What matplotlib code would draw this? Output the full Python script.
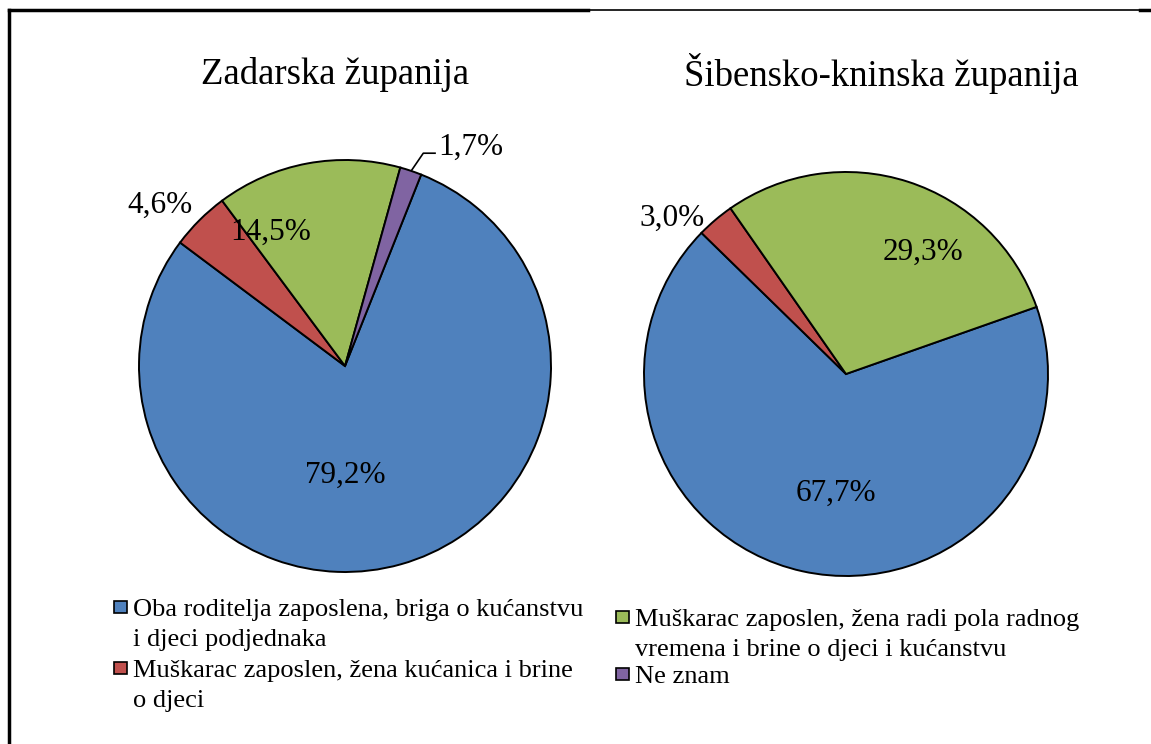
import matplotlib.pyplot as plt
from matplotlib.lines import Line2D
from matplotlib.patches import Rectangle

# =========================
# DATA
# =========================
categories = [
    "Oba roditelja zaposlena, briga o kućanstvu\ni djeci podjednaka",
    "Muškarac zaposlen, žena kućanica i brine\no djeci",
    "Muškarac zaposlen, žena radi pola radnog\nvremena i brine o djeci i kućanstvu",
    "Ne znam",
]
colors = ["#4F81BD", "#C0504D", "#9BBB59", "#8064A2"]

zadar_title = "Zadarska županija"
zadar_values = [79.2, 4.6, 14.5, 1.7]

sibenik_title = "Šibensko-kninska županija"
sibenik_values = [67.7, 3.0, 29.3]

W, H = 1151, 744
plt.rcParams["font.family"] = ["Liberation Serif", "DejaVu Serif"]

fig = plt.figure(figsize=(W / 100, H / 100), dpi=100)


def fmt(v):
    return ("%.1f%%" % v).replace(".", ",")


def pie_axes(cx, cy, r):
    # axes box in pixels so that radius 1 == r px
    return fig.add_axes([(cx - r) / W, (H - cy - r) / H, 2 * r / W, 2 * r / H])


def draw_pie(ax, values, startangle, label_pos):
    ax.pie(values, colors=colors[:len(values)], startangle=startangle,
           counterclock=False, radius=1.0,
           wedgeprops=dict(edgecolor="black", linewidth=1.4))
    ax.set_xlim(-1, 1)
    ax.set_ylim(-1, 1)
    ax.set_aspect("auto")
    ax.axis("off")
    for v, (x, y) in zip(values, label_pos):
        if (x, y) == (None, None):
            continue
        ax.text(x, y, fmt(v), ha="center", va="center", fontsize=22.5, clip_on=False)


# Zadarska
ax1 = pie_axes(345, 366, 206)
draw_pie(ax1, zadar_values, 68.3,
         [(0.0, -0.53), (-0.90, 0.78), (-0.36, 0.65), (None, None)])
# leader line for small slice
ax1.plot([0.324, 0.380, 0.437], [0.951, 1.033, 1.033], color="black", lw=1.2, clip_on=False)
ax1.text(0.451, 1.063, fmt(zadar_values[3]), ha="left", va="center", fontsize=22.5, clip_on=False)

# Sibensko-kninska
ax2 = pie_axes(846, 374, 202)
draw_pie(ax2, sibenik_values, 19.4,
         [(-0.05, -0.59), (-0.86, 0.77), (0.38, 0.60)])

# titles
fig.text(335 / W, 1 - 74 / H, zadar_title, ha="center", va="center", fontsize=26.5)
fig.text(881 / W, 1 - 74 / H, sibenik_title, ha="center", va="center", fontsize=26.5)

# legend (Excel style: marker next to first line of wrapped label)
# (marker left x, text x, first-line baseline y) in pixels
legend_slots = [(114, 133, 616), (114, 133, 677), (616, 635, 626), (616, 635, 683)]
LINE_H = 30
for label, c, (mx, tx, by) in zip(categories, colors, legend_slots):
    fig.add_artist(Rectangle((mx / W, 1 - (by - 3) / H), 13 / W, 12 / H,
                             transform=fig.transFigure, facecolor=c,
                             edgecolor="black", linewidth=1.2))
    for i, line in enumerate(label.split("\n")):
        fig.text(tx / W, 1 - (by + i * LINE_H) / H, line, ha="left",
                 va="baseline", fontsize=19)

# frame lines
fig.add_artist(Line2D([9 / W, 9 / W], [0, 1 - 10 / H], color="black", lw=2.5))
fig.add_artist(Line2D([9 / W, 588 / W], [1 - 10 / H, 1 - 10 / H], color="black", lw=2.5))
fig.add_artist(Line2D([588 / W, 1140 / W], [1 - 10 / H, 1 - 10 / H], color="black", lw=1.2))
fig.add_artist(Line2D([1140 / W, 1], [1 - 10 / H, 1 - 10 / H], color="black", lw=2.5))

fig.savefig("out.png", dpi=100)
